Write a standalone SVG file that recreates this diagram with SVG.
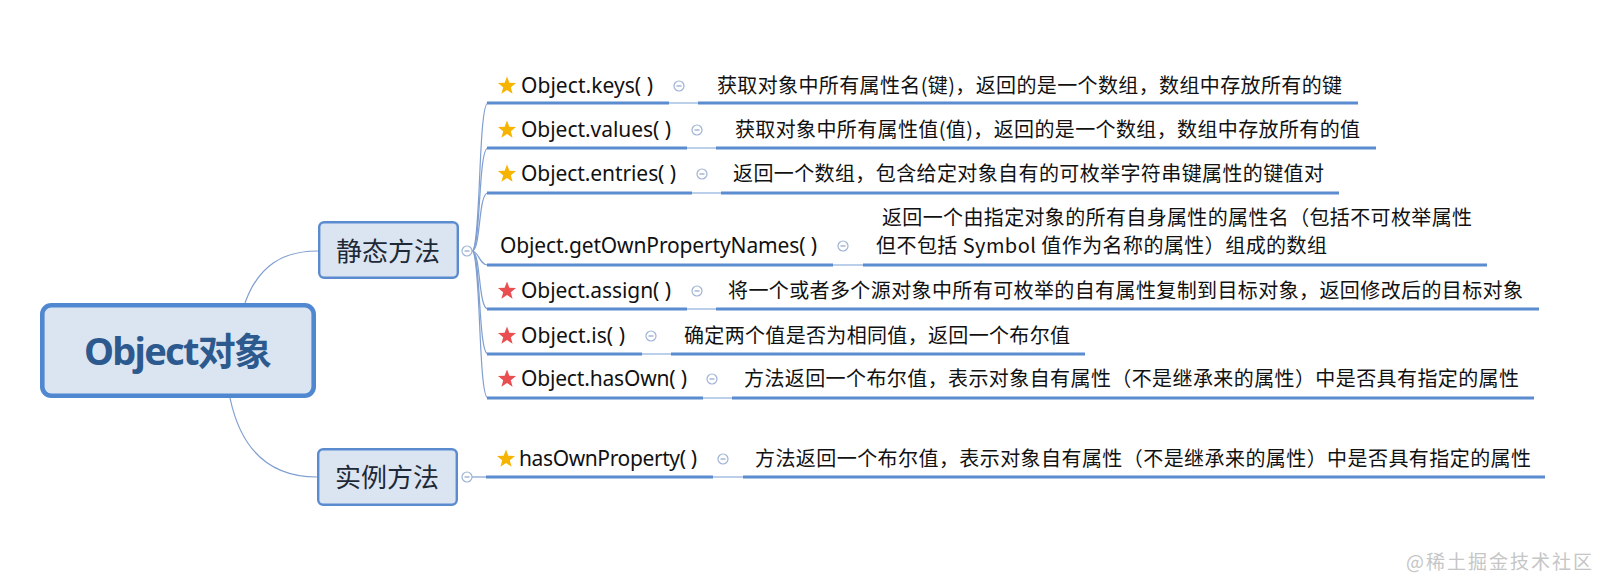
<svg xmlns="http://www.w3.org/2000/svg" width="1598" height="581" viewBox="0 0 1598 581">
<style>
.root-box{fill:#dbe5f2;stroke:#4f88d0;stroke-width:4.6}
.root-txt{font-family:"Noto Sans","Noto Sans CJK SC",sans-serif;font-weight:bold;font-size:38px;fill:#2d5a8e}
.br-box{fill:#dbe5f2;stroke:#5b8bcf;stroke-width:2.4}
.br-txt{font-family:"Noto Sans CJK SC",sans-serif;font-size:26px;fill:#1e2937}
.title{font-family:"Noto Sans","Noto Sans CJK SC",sans-serif;font-size:21px;fill:#111}
.desc{font-family:"Noto Sans CJK SC",sans-serif;font-size:20px;fill:#111}
.ul{stroke:#5b8ccf;stroke-width:3;fill:none}
.thin{stroke:#8fb0dc;stroke-width:1.2;fill:none}
.curve{stroke:#7f9fd0;stroke-width:1.2;fill:none}
.col{fill:#fff;stroke:#9fb3d6;stroke-width:1.2}
.colm{stroke:#8ea3c9;stroke-width:1.2}
.gold{fill:#f6b400}
.red{fill:#e94f50}
.wm{font-family:"Noto Sans CJK SC",sans-serif;font-size:19px;fill:#c6c6c6}
</style>
<defs>
<path id="star" d="M0,-9.5 L2.35,-3.24 L9.04,-2.94 L3.8,1.24 L5.58,7.69 L0,4 L-5.58,7.69 L-3.8,1.24 L-9.04,-2.94 L-2.35,-3.24 Z"/>
<g id="col"><circle class="col" r="5"/><line class="colm" x1="-2.5" y1="0" x2="2.5" y2="0"/></g>
</defs>
<rect width="1598" height="581" fill="#fff"/>

<g id="connectors">
<path class="curve" d="M245,303 C259,264 284,251 318,251"/>
<path class="curve" d="M230,398 C241,450 270,477 317,477"/>
<path class="curve" d="M472,251 C481,251 478,103 488,103"/>
<path class="curve" d="M472,251 C481,251 478,148 488,148"/>
<path class="curve" d="M472,251 C481,251 478,193 488,193"/>
<path class="curve" d="M472,251 C479,251 479,265 488,265"/>
<path class="curve" d="M472,251 C481,251 478,309 488,309"/>
<path class="curve" d="M472,251 C481,251 478,354 488,354"/>
<path class="curve" d="M472,251 C481,251 478,398 488,398"/>
<line class="curve" x1="472" y1="477" x2="487" y2="477"/>
</g>

<g id="root">
<rect class="root-box" x="42.3" y="305.3" width="271.4" height="90.4" rx="9"/>
<text class="root-txt" x="84" y="365" textLength="188">Object对象</text>
</g>

<g id="static-methods">
<rect class="br-box" x="319.2" y="222.2" width="138.6" height="55.6" rx="5"/>
<text class="br-txt" x="388" y="261" text-anchor="middle">静态方法</text>
<use href="#col" x="467" y="251"/>
</g>

<g id="instance-methods">
<rect class="br-box" x="318.2" y="449.2" width="138.6" height="55.6" rx="5"/>
<text class="br-txt" x="387" y="487" text-anchor="middle">实例方法</text>
<use href="#col" x="467" y="477"/>
</g>

<g id="keys">
<line class="ul" x1="487" y1="103" x2="669" y2="103"/><line class="thin" x1="669" y1="103" x2="698" y2="103"/><line class="ul" x1="698" y1="103" x2="1358" y2="103"/>
<use href="#star" class="gold" x="507" y="86"/>
<text class="title" x="521" y="93" textLength="132">Object.keys( )</text>
<use href="#col" x="679" y="86"/>
<text class="desc" x="717" y="93" textLength="625">获取对象中所有属性名(键)，返回的是一个数组，数组中存放所有的键</text>
</g>

<g id="values">
<line class="ul" x1="487" y1="148" x2="687" y2="148"/><line class="thin" x1="687" y1="148" x2="716" y2="148"/><line class="ul" x1="716" y1="148" x2="1376" y2="148"/>
<use href="#star" class="gold" x="507" y="130"/>
<text class="title" x="521" y="137" textLength="150">Object.values( )</text>
<use href="#col" x="697" y="130"/>
<text class="desc" x="735" y="137" textLength="625">获取对象中所有属性值(值)，返回的是一个数组，数组中存放所有的值</text>
</g>

<g id="entries">
<line class="ul" x1="487" y1="193" x2="692" y2="193"/><line class="thin" x1="692" y1="193" x2="721" y2="193"/><line class="ul" x1="721" y1="193" x2="1339" y2="193"/>
<use href="#star" class="gold" x="507" y="174"/>
<text class="title" x="521" y="181" textLength="155">Object.entries( )</text>
<use href="#col" x="702" y="174"/>
<text class="desc" x="733" y="181" textLength="591">返回一个数组，包含给定对象自有的可枚举字符串键属性的键值对</text>
</g>

<g id="getOwnPropertyNames">
<line class="ul" x1="487" y1="265" x2="833" y2="265"/><line class="thin" x1="833" y1="265" x2="863" y2="265"/><line class="ul" x1="863" y1="265" x2="1487" y2="265"/>
<text class="title" x="500" y="253" textLength="317">Object.getOwnPropertyNames( )</text>
<use href="#col" x="843" y="246"/>
<text class="desc" x="882" y="225" textLength="590">返回一个由指定对象的所有自身属性的属性名（包括不可枚举属性</text>
<text class="desc" x="876" y="253" textLength="451">但不包括 Symbol 值作为名称的属性）组成的数组</text>
</g>

<g id="assign">
<line class="ul" x1="487" y1="309" x2="687" y2="309"/><line class="thin" x1="687" y1="309" x2="716" y2="309"/><line class="ul" x1="716" y1="309" x2="1539" y2="309"/>
<use href="#star" class="red" x="507" y="291"/>
<text class="title" x="521" y="298" textLength="150">Object.assign( )</text>
<use href="#col" x="697" y="291"/>
<text class="desc" x="728" y="298" textLength="795">将一个或者多个源对象中所有可枚举的自有属性复制到目标对象，返回修改后的目标对象</text>
</g>

<g id="is">
<line class="ul" x1="487" y1="354" x2="642" y2="354"/><line class="thin" x1="642" y1="354" x2="671" y2="354"/><line class="ul" x1="671" y1="354" x2="1085" y2="354"/>
<use href="#star" class="red" x="507" y="336"/>
<text class="title" x="521" y="343" textLength="104">Object.is( )</text>
<use href="#col" x="651" y="336"/>
<text class="desc" x="684" y="343" textLength="386">确定两个值是否为相同值，返回一个布尔值</text>
</g>

<g id="hasOwn">
<line class="ul" x1="487" y1="398" x2="703" y2="398"/><line class="thin" x1="703" y1="398" x2="732" y2="398"/><line class="ul" x1="732" y1="398" x2="1534" y2="398"/>
<use href="#star" class="red" x="507" y="379"/>
<text class="title" x="521" y="386" textLength="166">Object.hasOwn( )</text>
<use href="#col" x="712" y="379"/>
<text class="desc" x="744" y="386" textLength="775">方法返回一个布尔值，表示对象自有属性（不是继承来的属性）中是否具有指定的属性</text>
</g>

<g id="hasOwnProperty">
<line class="ul" x1="486" y1="477" x2="713" y2="477"/><line class="thin" x1="713" y1="477" x2="743" y2="477"/><line class="ul" x1="743" y1="477" x2="1545" y2="477"/>
<use href="#star" class="gold" x="506" y="459"/>
<text class="title" x="519" y="466" textLength="178">hasOwnProperty( )</text>
<use href="#col" x="723" y="459"/>
<text class="desc" x="755" y="466" textLength="776">方法返回一个布尔值，表示对象自有属性（不是继承来的属性）中是否具有指定的属性</text>
</g>

<text class="wm" x="1406" y="569" textLength="186">@稀土掘金技术社区</text>
</svg>
